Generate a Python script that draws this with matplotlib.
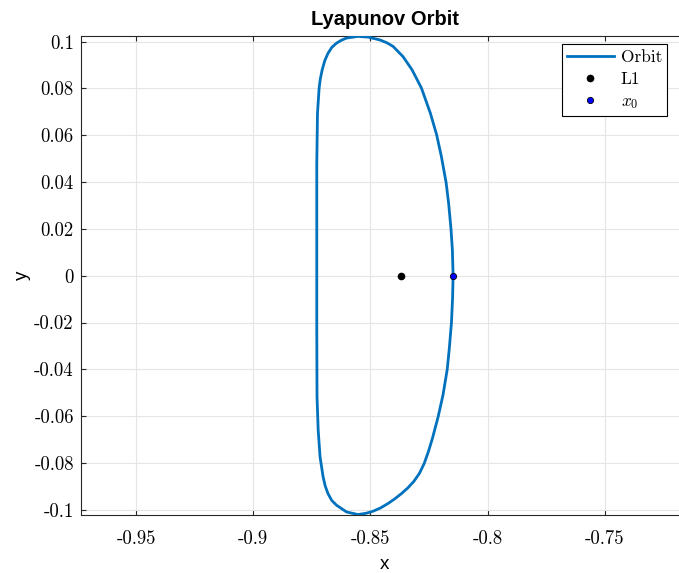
import numpy as np
import matplotlib
matplotlib.use('Agg')
from matplotlib import pyplot as plt

# orbit points, going round from x0 (upper half first)
x_orbit = [-0.8147, -0.8150, -0.8156, -0.8166, -0.8177, -0.8197, -0.8217, -0.8244,
           -0.8282, -0.8322, -0.8361, -0.8403, -0.8430, -0.8460, -0.8510, -0.8553,
           -0.8602, -0.8625, -0.8645, -0.8665, -0.8681, -0.8695, -0.8706, -0.8714,
           -0.8719, -0.8726, -0.8729, -0.8729, -0.8729,
           -0.8729, -0.8728, -0.8723, -0.8715, -0.8702, -0.8693, -0.8681, -0.8665,
           -0.8645, -0.8602, -0.8553, -0.8520, -0.8489, -0.8457, -0.8425, -0.8396,
           -0.8368, -0.8340, -0.8315, -0.8290, -0.8270, -0.8252, -0.8235, -0.8211,
           -0.8190, -0.8172, -0.8163, -0.8154, -0.8149, -0.8147]
y_orbit = [0.0000, 0.0110, 0.0200, 0.0309, 0.0399, 0.0509, 0.0601, 0.0694,
           0.0801, 0.0879, 0.0936, 0.0979, 0.0995, 0.1007, 0.1019, 0.1022,
           0.1015, 0.1005, 0.0993, 0.0975, 0.0950, 0.0918, 0.0879, 0.0840,
           0.0801, 0.0694, 0.0480, 0.0200, 0.0000,
           -0.0232, -0.0517, -0.0660, -0.0774, -0.0859, -0.0898, -0.0931, -0.0960,
           -0.0980, -0.1009, -0.1020, -0.1015, -0.1006, -0.0992, -0.0973, -0.0953,
           -0.0931, -0.0906, -0.0879, -0.0843, -0.0801, -0.0750, -0.0694, -0.0603,
           -0.0509, -0.0400, -0.0309, -0.0201, -0.0090, 0.0000]

L1 = (-0.8370, 0.0)
x0 = (-0.8147, 0.0)

xticks = [-0.95, -0.9, -0.85, -0.8, -0.75]
yticks = [-0.1, -0.08, -0.06, -0.04, -0.02, 0, 0.02, 0.04, 0.06, 0.08, 0.1]

plt.rcParams['font.family'] = 'cmr10'
plt.rcParams['mathtext.fontset'] = 'cm'
plt.rcParams['axes.unicode_minus'] = False
plt.rcParams['axes.formatter.use_mathtext'] = False

fig = plt.figure(figsize=(6.79, 5.73), dpi=100)
# axes runs a bit past the right edge of the figure, like the reference
ax = fig.add_axes([80.7 / 679, 58 / 573, 608 / 679, 479.3 / 573])

ax.plot(x_orbit, y_orbit, color='#0072BD', linewidth=2.0, label='Orbit', zorder=3,
        solid_joinstyle='round')
ax.plot([L1[0]], [L1[1]], 'o', color='black', markersize=4.5, linestyle='none', label='L1', zorder=4)
ax.plot([x0[0]], [x0[1]], 'o', markerfacecolor='blue', markeredgecolor='black',
        markeredgewidth=0.6, markersize=4.5, linestyle='none', label='$x_0$', zorder=4)

ax.set_xlim(-0.9737, -0.7141)
ax.set_ylim(-0.1022, 0.1025)
ax.set_xticks(xticks)
ax.set_yticks(yticks)
ax.set_xticklabels(['%g' % t for t in xticks])
ax.set_yticklabels(['%g' % t for t in yticks])

ax.grid(True, color='#e5e5e5', linewidth=0.8)
ax.set_axisbelow(True)
for s in ax.spines.values():
    s.set_color('#262626')
    s.set_linewidth(0.8)
ax.tick_params(direction='in', length=3.5, width=0.8, color='#262626',
               labelsize=13.5, top=True, right=True)
ax.tick_params(axis='x', pad=10.5)
ax.tick_params(axis='y', pad=5)

ax.set_title('Lyapunov Orbit', fontfamily='Liberation Sans', fontweight='bold',
             fontsize=14.5, pad=7.5)
ax.set_xlabel('x', fontfamily='Liberation Sans', fontsize=13.5, labelpad=6)
ax.set_ylabel('y', fontfamily='Liberation Sans', fontsize=13.5, labelpad=2.5)

leg = ax.legend(loc='upper right', bbox_to_anchor=(667.3 / 679, 1 - 44.3 / 573),
                bbox_transform=fig.transFigure, borderaxespad=0, fontsize=12.5,
                fancybox=False, framealpha=1, edgecolor='black', handlelength=2.7,
                labelspacing=0.38, handletextpad=0.4, borderpad=0.3)
leg.get_frame().set_linewidth(0.8)

fig.savefig('out.png', dpi=100)
